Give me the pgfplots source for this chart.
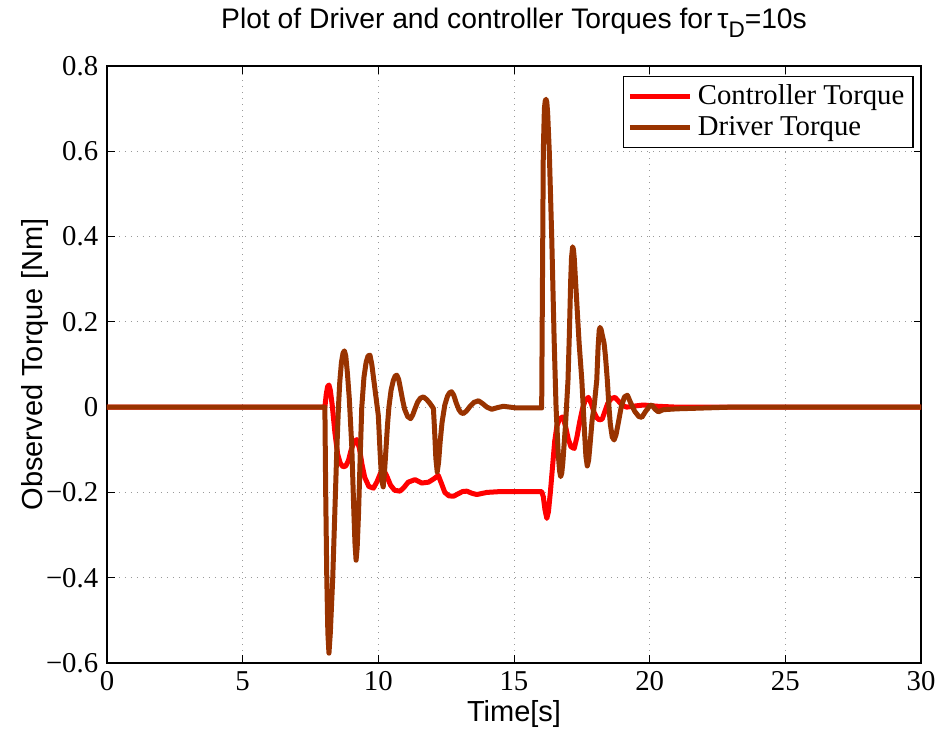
\documentclass[border=0pt]{standalone}
\usepackage{fontspec}
\setmainfont{Liberation Serif}
\newfontfamily\helv{Liberation Sans}
\usepackage{pgfplots}
\pgfplotsset{compat=1.18}
\definecolor{ctrlred}{RGB}{255,0,0}
\definecolor{drvbrown}{RGB}{153,51,0}

\begin{document}
\begin{tikzpicture}
\begin{axis}[
    scale only axis,
    width=325.6pt, height=238.8pt,
    xmin=0, xmax=30, ymin=-0.6, ymax=0.8,
    xtick={0,5,10,15,20,25,30},
    ytick={-0.6,-0.4,-0.2,0,0.2,0.4,0.6,0.8},
    yticklabels={−0.6,−0.4,−0.2,0,0.2,0.4,0.6,0.8},
    xticklabels={0,5,10,15,20,25,30},
    tick align=inside,
    major tick length=3pt,
    tick style={black, line width=0.4pt},
    axis line style={black, line width=0.5pt},
    ticklabel style={font=\fontsize{11.5}{13}\selectfont},
    xmajorgrids, ymajorgrids,
    grid style={dotted, gray!80, line width=0.4pt},
    title={\helv Plot of Driver and controller Torques for\,τ\raisebox{-0.55ex}{\small D}=10s},
    title style={font=\fontsize{11.3}{13}\selectfont, yshift=2pt},
    xlabel={\helv Time[s]},
    ylabel={\helv Observed Torque [Nm]},
    label style={font=\fontsize{11.6}{13}\selectfont},
    xlabel style={yshift=3pt},
    ylabel style={yshift=-8pt},
    legend style={at={(0.991,0.984)}, anchor=north east, draw=black, line width=0.5pt,
        font=\fontsize{11.5}{12.5}\selectfont, inner sep=1.5pt, row sep=-1pt},
    legend cell align=left,
    legend image code/.code={\draw[#1, line width=2pt] (0cm,0cm) -- (0.85cm,0cm);},
]
\addplot[color=ctrlred, line width=2pt, line join=round] coordinates {
(0,0) (8.03,0) (8.08,0.03) (8.13,0.048) (8.18,0.052) (8.23,0.04) (8.3,0.005) (8.4,-0.06)
(8.5,-0.11) (8.6,-0.132) (8.7,-0.14) (8.8,-0.138) (8.9,-0.125) (9.0,-0.1) (9.1,-0.082)
(9.2,-0.076) (9.3,-0.095) (9.4,-0.135) (9.5,-0.165) (9.65,-0.186) (9.82,-0.19)
(9.95,-0.175) (10.08,-0.155) (10.18,-0.146) (10.3,-0.16) (10.45,-0.183) (10.6,-0.195)
(10.8,-0.197) (10.95,-0.188) (11.1,-0.176) (11.35,-0.17) (11.6,-0.178) (11.85,-0.176)
(12.05,-0.168) (12.21,-0.16) (12.32,-0.178) (12.45,-0.2) (12.6,-0.208) (12.77,-0.209)
(12.95,-0.203) (13.1,-0.198) (13.26,-0.197) (13.45,-0.202) (13.63,-0.205) (13.85,-0.202)
(14.0,-0.2) (14.5,-0.198) (15,-0.198) (16.02,-0.198)
(16.08,-0.21) (16.14,-0.24) (16.21,-0.261) (16.27,-0.245) (16.34,-0.2) (16.42,-0.14)
(16.5,-0.08) (16.58,-0.045) (16.68,-0.027) (16.80,-0.023) (16.9,-0.045) (17.0,-0.075)
(17.1,-0.093) (17.22,-0.097) (17.32,-0.07) (17.42,-0.035) (17.52,-0.005) (17.62,0.015)
(17.74,0.023) (17.85,0.008) (17.95,-0.012) (18.05,-0.025) (18.15,-0.03) (18.25,-0.028)
(18.35,-0.01) (18.45,0.008) (18.58,0.02) (18.72,0.023) (18.85,0.014) (19.0,0.004)
(19.15,0.0) (19.5,0.003) (19.77,0.005) (20.3,0.002) (21,0.0) (30,0)
};
\addlegendentry{Controller Torque}
\addplot[color=drvbrown, line width=2pt, line join=round] coordinates {
(0,0) (8.03,0) (8.06,-0.2) (8.10,-0.4) (8.14,-0.53) (8.18,-0.577) (8.23,-0.53)
(8.32,-0.4) (8.42,-0.2) (8.47,-0.1) (8.53,0.0) (8.58,0.06) (8.64,0.105) (8.70,0.127)
(8.75,0.132) (8.80,0.12) (8.86,0.08) (8.93,0.02) (9.02,-0.09) (9.10,-0.25)
(9.14,-0.32) (9.18,-0.359) (9.22,-0.33) (9.27,-0.25) (9.33,-0.12) (9.39,0.0)
(9.47,0.07) (9.55,0.105) (9.62,0.12) (9.69,0.122) (9.76,0.1) (9.84,0.06) (9.92,0.02)
(10.0,-0.02) (10.06,-0.1) (10.12,-0.17) (10.18,-0.187) (10.23,-0.15) (10.28,-0.1)
(10.34,-0.04) (10.39,0.0) (10.47,0.04) (10.55,0.062) (10.62,0.073) (10.68,0.075)
(10.75,0.065) (10.82,0.042) (10.9,0.015) (10.97,-0.005) (11.08,-0.022) (11.19,-0.027)
(11.27,-0.018) (11.35,-0.004) (11.45,0.012) (11.55,0.021) (11.66,0.024) (11.78,0.018)
(11.9,0.009) (12.03,-0.003) (12.07,-0.05) (12.12,-0.12) (12.17,-0.152) (12.22,-0.13)
(12.28,-0.08) (12.35,-0.035) (12.45,0.005) (12.55,0.026) (12.63,0.034) (12.70,0.036)
(12.78,0.028) (12.87,0.01) (12.97,-0.006) (13.05,-0.013) (13.13,-0.015) (13.25,-0.009)
(13.38,0.002) (13.52,0.011) (13.69,0.015) (13.85,0.008) (14.0,0.0) (14.18,-0.005)
(14.4,-0.001) (14.61,0.002) (15.1,-0.002) (16.02,-0.002)
(16.04,0.2) (16.06,0.4) (16.08,0.6) (16.12,0.7) (16.15,0.718) (16.18,0.722) (16.21,0.715)
(16.24,0.69) (16.30,0.6) (16.39,0.4) (16.48,0.157) (16.55,0.0) (16.63,-0.11)
(16.68,-0.15) (16.72,-0.163) (16.76,-0.155) (16.8,-0.13) (16.9,-0.04) (16.99,0.063)
(17.04,0.17) (17.09,0.298) (17.12,0.35) (17.16,0.376) (17.19,0.37) (17.22,0.35)
(17.31,0.25) (17.4,0.15) (17.5,0.063) (17.6,-0.06) (17.65,-0.115) (17.70,-0.138)
(17.75,-0.125) (17.8,-0.09) (17.88,-0.03) (17.95,0.0) (18.05,0.063) (18.10,0.141)
(18.14,0.18) (18.17,0.187) (18.21,0.182) (18.25,0.17) (18.32,0.15) (18.37,0.12)
(18.44,0.063) (18.5,0.0) (18.55,-0.04) (18.62,-0.07) (18.69,-0.077) (18.76,-0.065)
(18.85,-0.035) (18.95,0.0) (19.07,0.024) (19.18,0.028) (19.3,0.01) (19.45,-0.01)
(19.6,-0.022) (19.71,-0.024) (19.85,-0.01) (20.0,0.003) (20.08,0.005) (20.2,-0.005)
(20.32,-0.011) (20.5,-0.006) (21,-0.004) (22,-0.002) (23,0) (30,0)
};
\addlegendentry{Driver Torque}
\end{axis}
\pgfresetboundingbox
\path ([shift={(-42.8pt,-27.2pt)}]current axis.south west) rectangle ([shift={(6.8pt,26.4pt)}]current axis.north east);
\end{tikzpicture}
\end{document}
